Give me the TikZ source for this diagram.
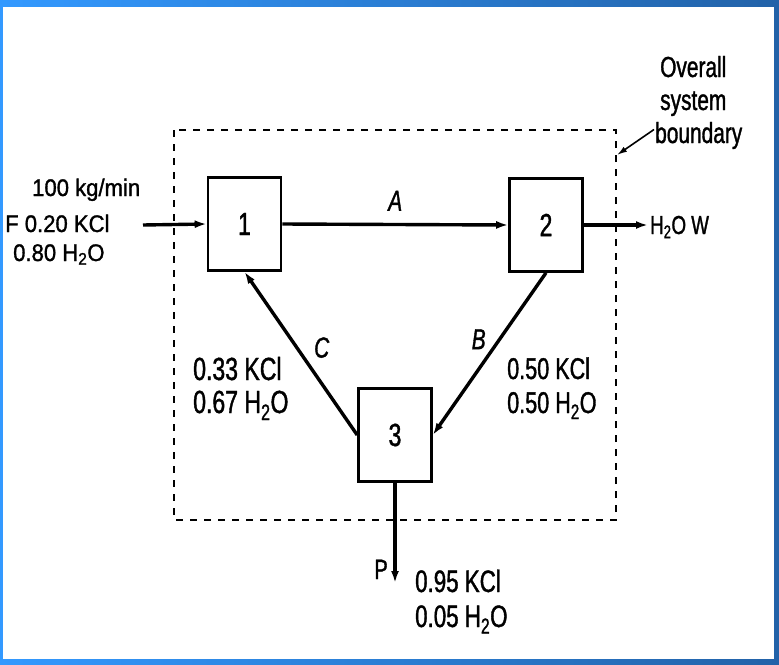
\documentclass[tikz,border=0pt]{standalone}
\usepackage{fontspec}
\setmainfont{Liberation Sans}[FakeStretch=0.92, FakeBold=1.2]
\newfontfamily\narrowsf{Liberation Sans}[FakeStretch=0.72, FakeBold=1.2]
\usetikzlibrary{positioning,arrows.meta}

\definecolor{frameleft}{HTML}{3399FF}
\definecolor{frameright}{HTML}{2262A8}

\begin{document}
\begin{tikzpicture}[x=1pt, y=-1pt,
  unit/.style={draw, line width=2.6pt, minimum width=73pt, minimum height=93pt,
               inner sep=0pt, font=\narrowsf\fontsize{32}{32}\selectfont},
  flow/.style={-{Latex[length=12pt,width=8pt]}, line width=3.4pt},
  txt/.style={anchor=base west, inner sep=0pt, font=\fontsize{24}{24}\selectfont},
  comp/.style={anchor=base west, inner sep=0pt, font=\narrowsf\fontsize{#1}{#1}\selectfont},
  stream/.style={inner sep=0pt, font=\narrowsf\itshape\fontsize{29}{29}\selectfont}
]
  % Frame
  \shade[left color=frameleft, right color=frameright] (0,0) rectangle (779,664);
  \fill[white] (3,7) rectangle (774,659);
  \useasboundingbox (0,0) rectangle (779,664);

  % System boundary
  \draw[line width=1.8pt, dash pattern=on 7pt off 7pt] (174,130) rectangle (616,520);

  % Units
  \node[unit] (u1) at (244.5,224) {1};
  \node[unit] (u2) at (546,225) {2};
  \node[unit] (u3) at (395,435) {3};

  % Free ends
  \coordinate (feedin) at (143,225);
  \coordinate (wout) at (648,225);
  \coordinate (pout) at (395,583);
  \coordinate (bnd) at (617,155);

  % Streams
  \draw[flow] (feedin) -- (u1.west);
  \draw[flow] (u1.east) -- node[stream, above=12pt] (sa) {A} (u2.west);
  \draw[flow] (u2.south) -- node[stream, pos=0.5, above left=3pt and 2pt] (sb) {B} (u3.east);
  \draw[flow] (u3.west) -- node[stream, pos=0.45, above right=2pt and 6pt] (sc) {C} (u1.south);
  \draw[flow] (u2.east) -- (wout);
  \draw[flow] (u3.south) -- (pout);

  % Feed
  \node[txt] (frate) at (32,196) {100 kg/min};
  \node[txt] (fkcl) at (5,232) {F 0.20 KCl};
  \node[txt] (fwat) at (13,261) {0.80 H\textsubscript{2}O};

  % Compositions
  \node[comp=32] (ckcl) at (193,380) {0.33 KCl};
  \node[comp=32] (cwat) at (193,413) {0.67 H\textsubscript{2}O};
  \node[comp=30] (bkcl) at (507,379) {0.50 KCl};
  \node[comp=30] (bwat) at (507,413) {0.50 H\textsubscript{2}O};
  \node[comp=31] (pkcl) at (415,592) {0.95 KCl};
  \node[comp=31] (pwat) at (415,627) {0.05 H\textsubscript{2}O};
  \node[comp=26] (wlbl) at (650,234) {H\textsubscript{2}O W};
  \node[comp=28, anchor=base east] (plbl) at (388,579) {P};

  % Boundary label
  \node[comp=29] (ovl) at (660,77) {Overall};
  \node[comp=29] (sys) at (660,110) {system};
  \node[comp=29] (bdy) at (655,143) {boundary};
  \draw[-{Latex[length=10pt,width=6pt]}, line width=1.6pt] (bdy.west) ++(-1,-6) coordinate (bstart) -- (bnd);
\end{tikzpicture}
\end{document}
